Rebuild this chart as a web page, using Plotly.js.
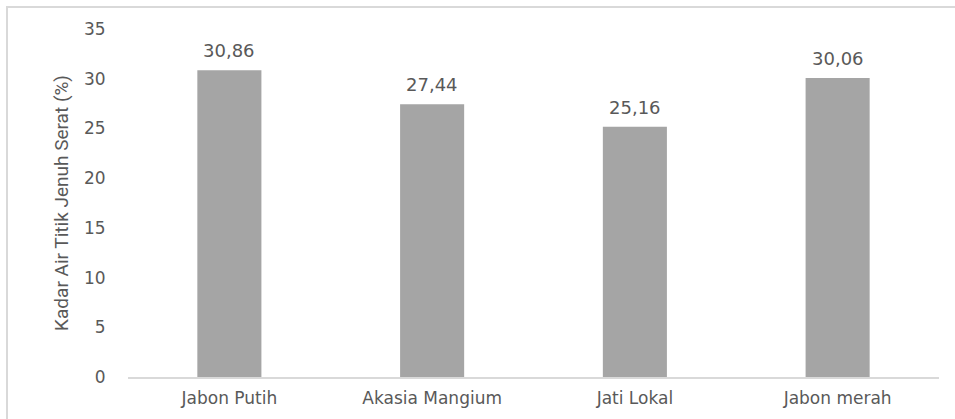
<!DOCTYPE html>
<html>
<head>
<meta charset="utf-8">
<script src="https://cdn.plot.ly/plotly-3.0.1.min.js"></script>
<style>
  html, body { margin: 0; padding: 0; background: #fff; }
  #wrap { position: relative; width: 955px; height: 419px; overflow: hidden; }
  #chart { position: absolute; left: 0; top: 0; width: 955px; height: 419px; }
  #frame { position: absolute; left: 6px; top: 6px; width: 960px; height: 430px;
           border-left: 2px solid #d9d9d9; border-top: 2px solid #d9d9d9; pointer-events: none; }
</style>
</head>
<body>
<div id="wrap">
  <div id="chart"></div>
  <div id="frame"></div>
</div>
<script>
const categories = ["Jabon Putih", "Akasia Mangium", "Jati Lokal", "Jabon merah"];
const values = [30.86, 27.44, 25.16, 30.06];
const valueLabels = ["30,86", "27,44", "25,16", "30,06"];
const yTicks = [0, 5, 10, 15, 20, 25, 30, 35];

const textColor = "#595959";
const tickFont = { family: "DejaVu Sans, Open Sans, sans-serif", size: 17, color: textColor };

const trace = {
  type: "bar",
  x: categories,
  y: values,
  marker: { color: "#A5A5A5" },
  hoverinfo: "none"
};

const annotations = categories.map((c, i) => ({
  x: c, y: values[i], xref: "x", yref: "y",
  text: valueLabels[i], showarrow: false,
  yanchor: "bottom", yshift: 7,
  font: { family: "DejaVu Sans, Open Sans, sans-serif", size: 18, color: textColor }
}));

const layout = {
  width: 955, height: 419,
  margin: { l: 128, r: 16, t: 29, b: 42 },
  paper_bgcolor: "#ffffff",
  plot_bgcolor: "#ffffff",
  showlegend: false,
  bargap: 0.684,
  xaxis: {
    type: "category",
    showgrid: false,
    showline: true, linecolor: "#D9D9D9", linewidth: 2,
    ticks: "outside", ticklen: 5, tickcolor: "rgba(0,0,0,0)",
    tickfont: tickFont,
    zeroline: false
  },
  yaxis: {
    range: [0, 35],
    tickvals: yTicks,
    ticktext: yTicks.map(String),
    showgrid: false,
    zeroline: false,
    showline: false,
    ticks: "outside", ticklen: 18, tickcolor: "rgba(0,0,0,0)",
    tickfont: tickFont,
    title: {
      text: "Kadar Air Titik Jenuh Serat (%)",
      font: { family: "Liberation Sans Narrow, Roboto, sans-serif", size: 19, color: textColor },
      standoff: 10
    }
  },
  annotations: annotations
};

Plotly.newPlot("chart", [trace], layout, { displayModeBar: false, staticPlot: true });
</script>
</body>
</html>
